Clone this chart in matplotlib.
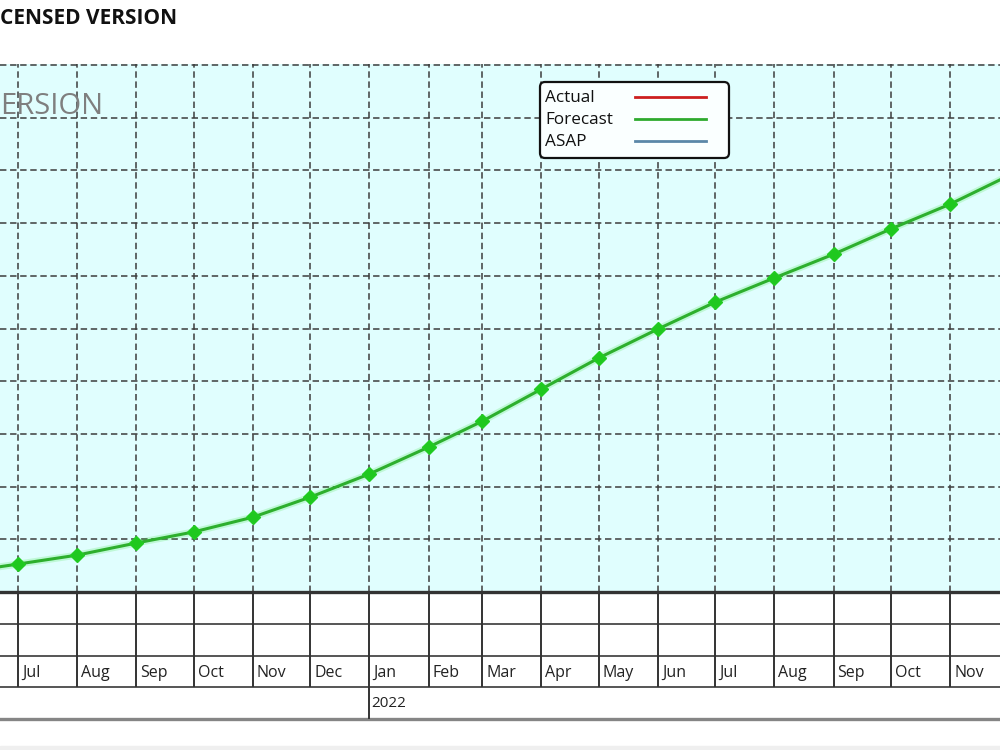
import matplotlib
matplotlib.use('Agg')
import matplotlib.pyplot as plt
import matplotlib.dates as mdates
from matplotlib.patches import FancyBboxPatch, Rectangle
from matplotlib.lines import Line2D
import pandas as pd

plt.rcParams['font.family'] = ['Open Sans', 'DejaVu Sans']

# ---------------- data ----------------
month_starts = pd.date_range('2021-06-01', '2022-12-01', freq='MS')
forecast = [0.37, 0.53, 0.70, 0.93, 1.14, 1.42, 1.80, 2.24, 2.75, 3.24,
            3.85, 4.44, 4.99, 5.50, 5.96, 6.41, 6.89, 7.36, 7.89]
month_labels = [d.strftime('%b') for d in month_starts]
year_starts = pd.to_datetime(['2022-01-01'])
year_labels = ['2022']
legend_labels = ['Actual', 'Forecast', 'ASAP']
legend_colors = ['#CC1F1F', '#2EAA2E', '#5B87A8']
title_text = 'CENSED VERSION'
watermark_text = 'ERSION'

# ---------------- layout ----------------
W, H = 1000, 750
fig = plt.figure(figsize=(10, 7.5), dpi=100)
fig.patches.append(Rectangle((0, 0), 1, 4 / H, transform=fig.transFigure,
                             color='#EFEFEF', zorder=0))

x0 = mdates.date2num(pd.Timestamp('2021-07-01'))
ppd = 1.91  # pixels per day
xmin = x0 - 18 / ppd
xmax = x0 + (W - 18) / ppd
xd = mdates.date2num(month_starts)

# main plot area
ax = fig.add_axes([0, (H - 592) / H, 1, (592 - 64) / H])
ax.set_facecolor('#E0FEFE')
for s in ax.spines.values():
    s.set_visible(False)
ax.set_xticks(xd)
ax.set_yticks(range(1, 11))
ax.set_xlim(xmin, xmax)
ax.set_ylim(0, 10.02)
ax.tick_params(length=0, labelbottom=False, labelleft=False)
ax.grid(True, color='#3C3C3C', linestyle=(0, (4.2, 2.4)), linewidth=1.1)
ax.set_axisbelow(True)

ax.plot(xd, forecast, color='#3AE03A', lw=5, alpha=0.2, solid_capstyle='round')
ax.plot(xd, forecast, color='#2DAF2D', lw=2.2, marker='D', markersize=7.5,
        markerfacecolor='#1FC81F', markeredgecolor='#22CC22', zorder=3)

# timeline table below
tax = fig.add_axes([0, (H - 719) / H, 1, (719 - 592) / H])
tax.set_xlim(xmin, xmax)
tax.set_ylim(4, 0)
tax.axis('off')
for r in (1, 2, 3):
    tax.axhline(r, color='#555555', lw=1.4)
tax.axhline(4, color='#858585', lw=2.4, clip_on=False)
tax.vlines(xd, 0, 3, color='#333333', lw=1.4)
tax.vlines(mdates.date2num(year_starts), 3, 4, color='#333333', lw=1.4)
tax.axhline(0, color='#333333', lw=2.4, clip_on=False)
for d, lab in zip(xd, month_labels):
    if xmin <= d and d + 40 / ppd <= xmax:
        tax.text(d + 4 / ppd, 2.55, lab, ha='left', va='center', fontsize=11.5,
                 color='#222222')
for d, lab in zip(mdates.date2num(year_starts), year_labels):
    tax.text(d + 2 / ppd, 3.5, lab, ha='left', va='center', fontsize=11,
             color='#222222')

# title and watermark
fig.text(0, 1 - 18 / H, title_text, fontweight='bold', fontsize=15,
         ha='left', va='center', color='#111111')
fig.text(0, 1 - 107 / H, watermark_text, fontsize=21, ha='left', va='center',
         color='#7F7F7F')

# legend box (handles drawn right of labels)
inch = fig.dpi_scale_trans
box = FancyBboxPatch((5.40, (H - 158) / 100), 1.89, 0.76,
                     boxstyle='round,pad=0,rounding_size=0.05',
                     transform=inch, facecolor='#FAFFFF', edgecolor='#111111',
                     lw=1.6, zorder=5)
fig.patches.append(box)
for i, (lab, col) in enumerate(zip(legend_labels, legend_colors)):
    y = (H - (98 + 22 * i)) / 100
    fig.text(5.45, y, lab, transform=inch, ha='left', va='center',
             fontsize=12.3, color='#111111', zorder=6)
    fig.lines.append(Line2D([6.35, 7.06], [y + 0.015, y + 0.015], transform=inch,
                            color=col, lw=2.0, zorder=6))

fig.savefig('out.png', dpi=100)
